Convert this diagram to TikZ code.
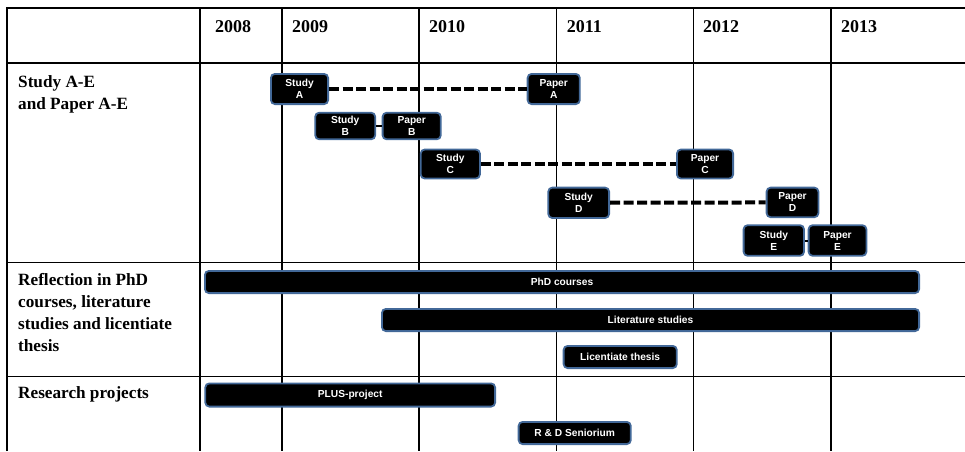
\documentclass[tikz,border=0pt]{standalone}
\usepackage{fontspec}
\setmainfont{Liberation Serif}
\setsansfont{Liberation Sans}
\usepackage{tikz}
\definecolor{boxedge}{RGB}{66,104,152}
\tikzset{evt/.style={draw=boxedge,line width=1.8pt,fill=black,
  rounded corners=4pt,text=white,align=center,inner sep=0pt,
  font=\sffamily\bfseries\fontsize{10.2}{12}\selectfont,minimum height=29pt}}
\tikzset{bar/.style={evt,minimum height=22.2pt}}
\tikzset{gap/.style={line width=4pt,dash pattern=on 10pt off 3.5pt}}
\tikzset{link/.style={line width=2pt}}
\tikzset{yr/.style={anchor=base west,inner sep=0pt,font=\bfseries\fontsize{18}{20}\selectfont}}
\tikzset{rowlab/.style={anchor=north west,align=left,inner sep=0pt,
  font=\bfseries\fontsize{17.2}{22}\selectfont}}

\begin{document}
\begin{tikzpicture}[x=1pt,y=-1pt]
          \def\xl{7} \def\xr{965}
          \def\yt{8} \def\yb{451}
          \useasboundingbox (0,0) rectangle (965,451);
          \draw[line width=2.6pt] (\xl,\yb) -- (\xl,\yt) -- (\xr,\yt);
          \foreach \x in {200,282,419,556.7,693.7,831}
            \draw[line width=1.3pt] (\x,\yt) -- (\x,\yb);
          \foreach \y in {63,262.7,376.7}
            \draw[line width=1.3pt] (\xl,\y) -- (\xr,\y);

          \foreach \x/\yr in {215/2008,292/2009,429/2010,566.7/2011,703/2012,841/2013}
            \node (y\yr) at (\x,32) [yr] {\yr};

          \node (labstudy) at (18,75) [rowlab] {Study A-E\\and Paper A-E};
          \node (labrefl) at (18,273) [rowlab] {Reflection in PhD\\courses, literature\\studies and licentiate\\thesis};
          \node (labproj) at (18,386) [rowlab] {Research projects};

          \node (studyA) at (299.5,89) [evt,minimum width=57.2pt,minimum height=30.2pt] {Study\\A};
          \node (paperA) at (553.7,89) [evt,minimum width=52.2pt,minimum height=30.2pt] {Paper\\A};
          \node (studyB) at (345.2,126) [evt,minimum width=60pt,minimum height=26.6pt] {Study\\B};
          \node (paperB) at (411.7,126) [evt,minimum width=58.2pt,minimum height=26.6pt] {Paper\\B};
          \node (studyC) at (450.3,164) [evt,minimum width=59.2pt] {Study\\C};
          \node (paperC) at (705,164) [evt,minimum width=56.2pt] {Paper\\C};
          \node (studyD) at (578.7,202.8) [evt,minimum width=60.8pt,minimum height=30.4pt] {Study\\D};
          \node (paperD) at (792.5,202.4) [evt,minimum width=51.8pt,minimum height=29.6pt] {Paper\\D};
          \node (studyE) at (773.8,240.5) [evt,minimum width=60.4pt,minimum height=30.6pt] {Study\\E};
          \node (paperE) at (837.5,240.5) [evt,minimum width=57.8pt,minimum height=30.6pt] {Paper\\E};

          \draw[gap] (studyA) -- (paperA);
          \draw[link] (studyB) -- (paperB);
          \draw[gap] (studyC) -- (paperC);
          \draw[gap] (studyD) -- (paperD);
          \draw[link] (studyE) -- (paperE);

          \node (phd) at (562,282) [bar,minimum width=714.2pt] {PhD courses};
          \node (lit) at (650.5,320) [bar,minimum width=537.2pt] {Literature studies};
          \node (lic) at (620.2,357) [bar,minimum width=113.2pt] {Licentiate thesis};
          \node (plus) at (350.2,395) [bar,minimum width=289.8pt,minimum height=23.2pt] {PLUS-project};
          \node (rd) at (574.7,433) [bar,minimum width=112.2pt] {R \& D Seniorium};
        \end{tikzpicture}
\end{document}
